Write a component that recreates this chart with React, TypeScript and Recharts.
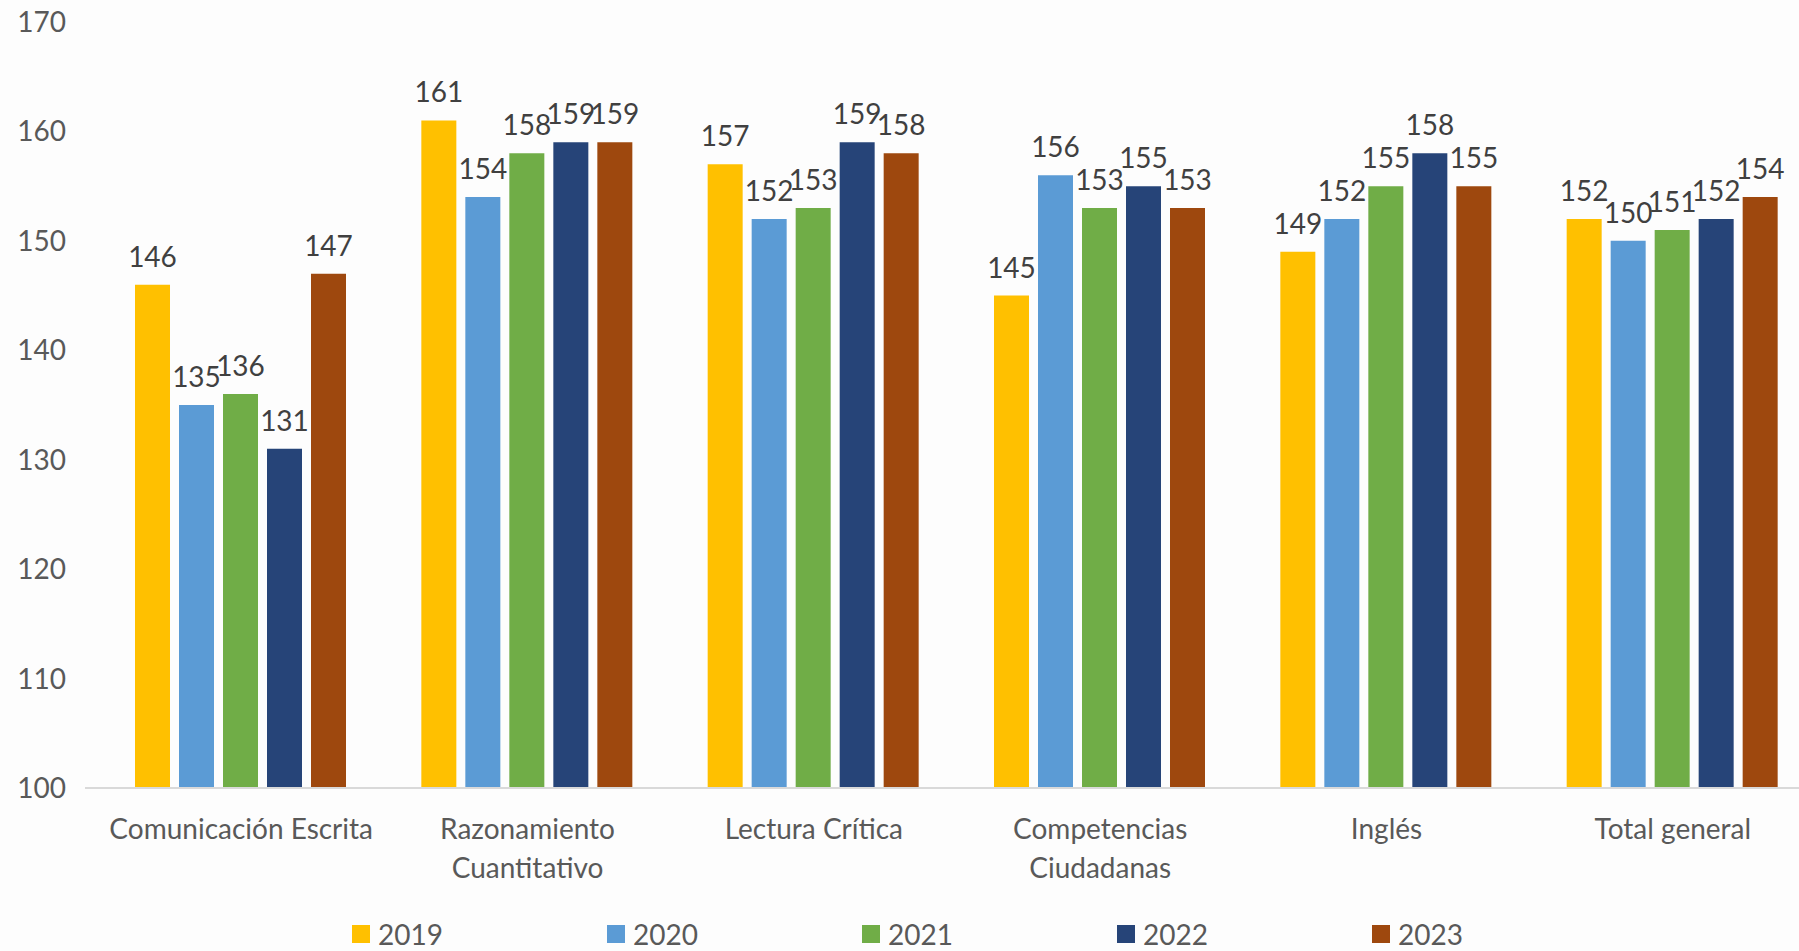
import React from "react";
import { BarChart, Bar, XAxis, YAxis, LabelList, Legend } from "recharts";

const categories = [
  "Comunicación Escrita",
  "Razonamiento Cuantitativo",
  "Lectura Crítica",
  "Competencias Ciudadanas",
  "Inglés",
  "Total general",
];
const years = ["2019", "2020", "2021", "2022", "2023"];
const values2019 = [146, 161, 157, 145, 149, 152];
const values2020 = [135, 154, 152, 156, 152, 150];
const values2021 = [136, 158, 153, 153, 155, 151];
const values2022 = [131, 159, 159, 155, 158, 152];
const values2023 = [147, 159, 158, 153, 155, 154];
const yTicks = [100, 110, 120, 130, 140, 150, 160, 170];
const colors = ["#FFC000", "#5B9BD5", "#70AD47", "#264478", "#9E480E"];

const series = [values2019, values2020, values2021, values2022, values2023];
const data = categories.map((c, i) => {
  const row: any = { name: c };
  years.forEach((y, k) => (row[y] = series[k][i]));
  return row;
});

const FONT = "Lato, 'Open Sans', sans-serif";
const FS = 28;

function wrap(text: string, maxChars: number): string[] {
  const words = text.split(" ");
  const lines: string[] = [];
  let cur = "";
  for (const w of words) {
    const cand = cur ? cur + " " + w : w;
    if (cand.length > maxChars && cur) {
      lines.push(cur);
      cur = w;
    } else cur = cand;
  }
  if (cur) lines.push(cur);
  return lines;
}

const CatTick = (props: any) => {
  const { x, y, payload } = props;
  const lines = wrap(payload.value, 20);
  return (
    <g transform={`translate(${x},${y})`}>
      {lines.map((l, i) => (
        <text
          key={i}
          x={0}
          y={i * 39}
          dy={43}
          textAnchor="middle"
          fill="#595959"
          fontSize={FS}
          fontFamily={FONT}
        >
          {l}
        </text>
      ))}
    </g>
  );
};

const LegendContent = (props: any) => {
  const { payload } = props;
  return (
    <div style={{ position: "relative", height: 45 }}>
      {(payload || []).map((p: any, i: number) => (
        <div
          key={i}
          style={{
            position: "absolute",
            left: 352 + i * 255,
            top: 14,
            display: "flex",
            alignItems: "center",
            fontFamily: FONT,
            fontSize: FS,
            color: "#595959",
            lineHeight: "28px",
            height: 28,
          }}
        >
          <span
            style={{
              display: "inline-block",
              width: 18,
              height: 18,
              background: p.color,
              marginRight: 8,
            }}
          />
          {p.value}
        </div>
      ))}
    </div>
  );
};

export default function App() {
  return (
    <div
      style={{
        position: "absolute",
        left: 0,
        top: 0,
        width: 1799,
        height: 951,
        overflow: "hidden",
        background: "#fdfdfd",
      }}
    >
      <BarChart
        width={1816}
        height={951}
        data={data}
        margin={{ top: 22, right: 0, bottom: 0, left: 0 }}
        barCategoryGap={37}
        barGap={9}
      >
        <YAxis
          width={85}
          domain={[100, 170]}
          ticks={yTicks}
          axisLine={false}
          tickLine={false}
          tickSize={0}
          tickMargin={19}
          tick={{ fill: "#595959", fontSize: FS, fontFamily: FONT }}
        />
        <XAxis
          dataKey="name"
          height={118}
          padding={{ left: 13, right: 0 }}
          axisLine={{ stroke: "#d9d9d9", strokeWidth: 2 }}
          tickLine={false}
          interval={0}
          tick={<CatTick />}
        />
        <Legend
          verticalAlign="bottom"
          height={45}
          content={<LegendContent />}
          wrapperStyle={{ left: 0, width: 1799 }}
        />
        {years.map((y, k) => (
          <Bar key={y} dataKey={y} fill={colors[k]} isAnimationActive={false}>
            <LabelList
              dataKey={y}
              position="top"
              offset={18}
              fill="#404040"
              fontSize={FS}
              fontFamily={FONT}
            />
          </Bar>
        ))}
      </BarChart>
    </div>
  );
}
